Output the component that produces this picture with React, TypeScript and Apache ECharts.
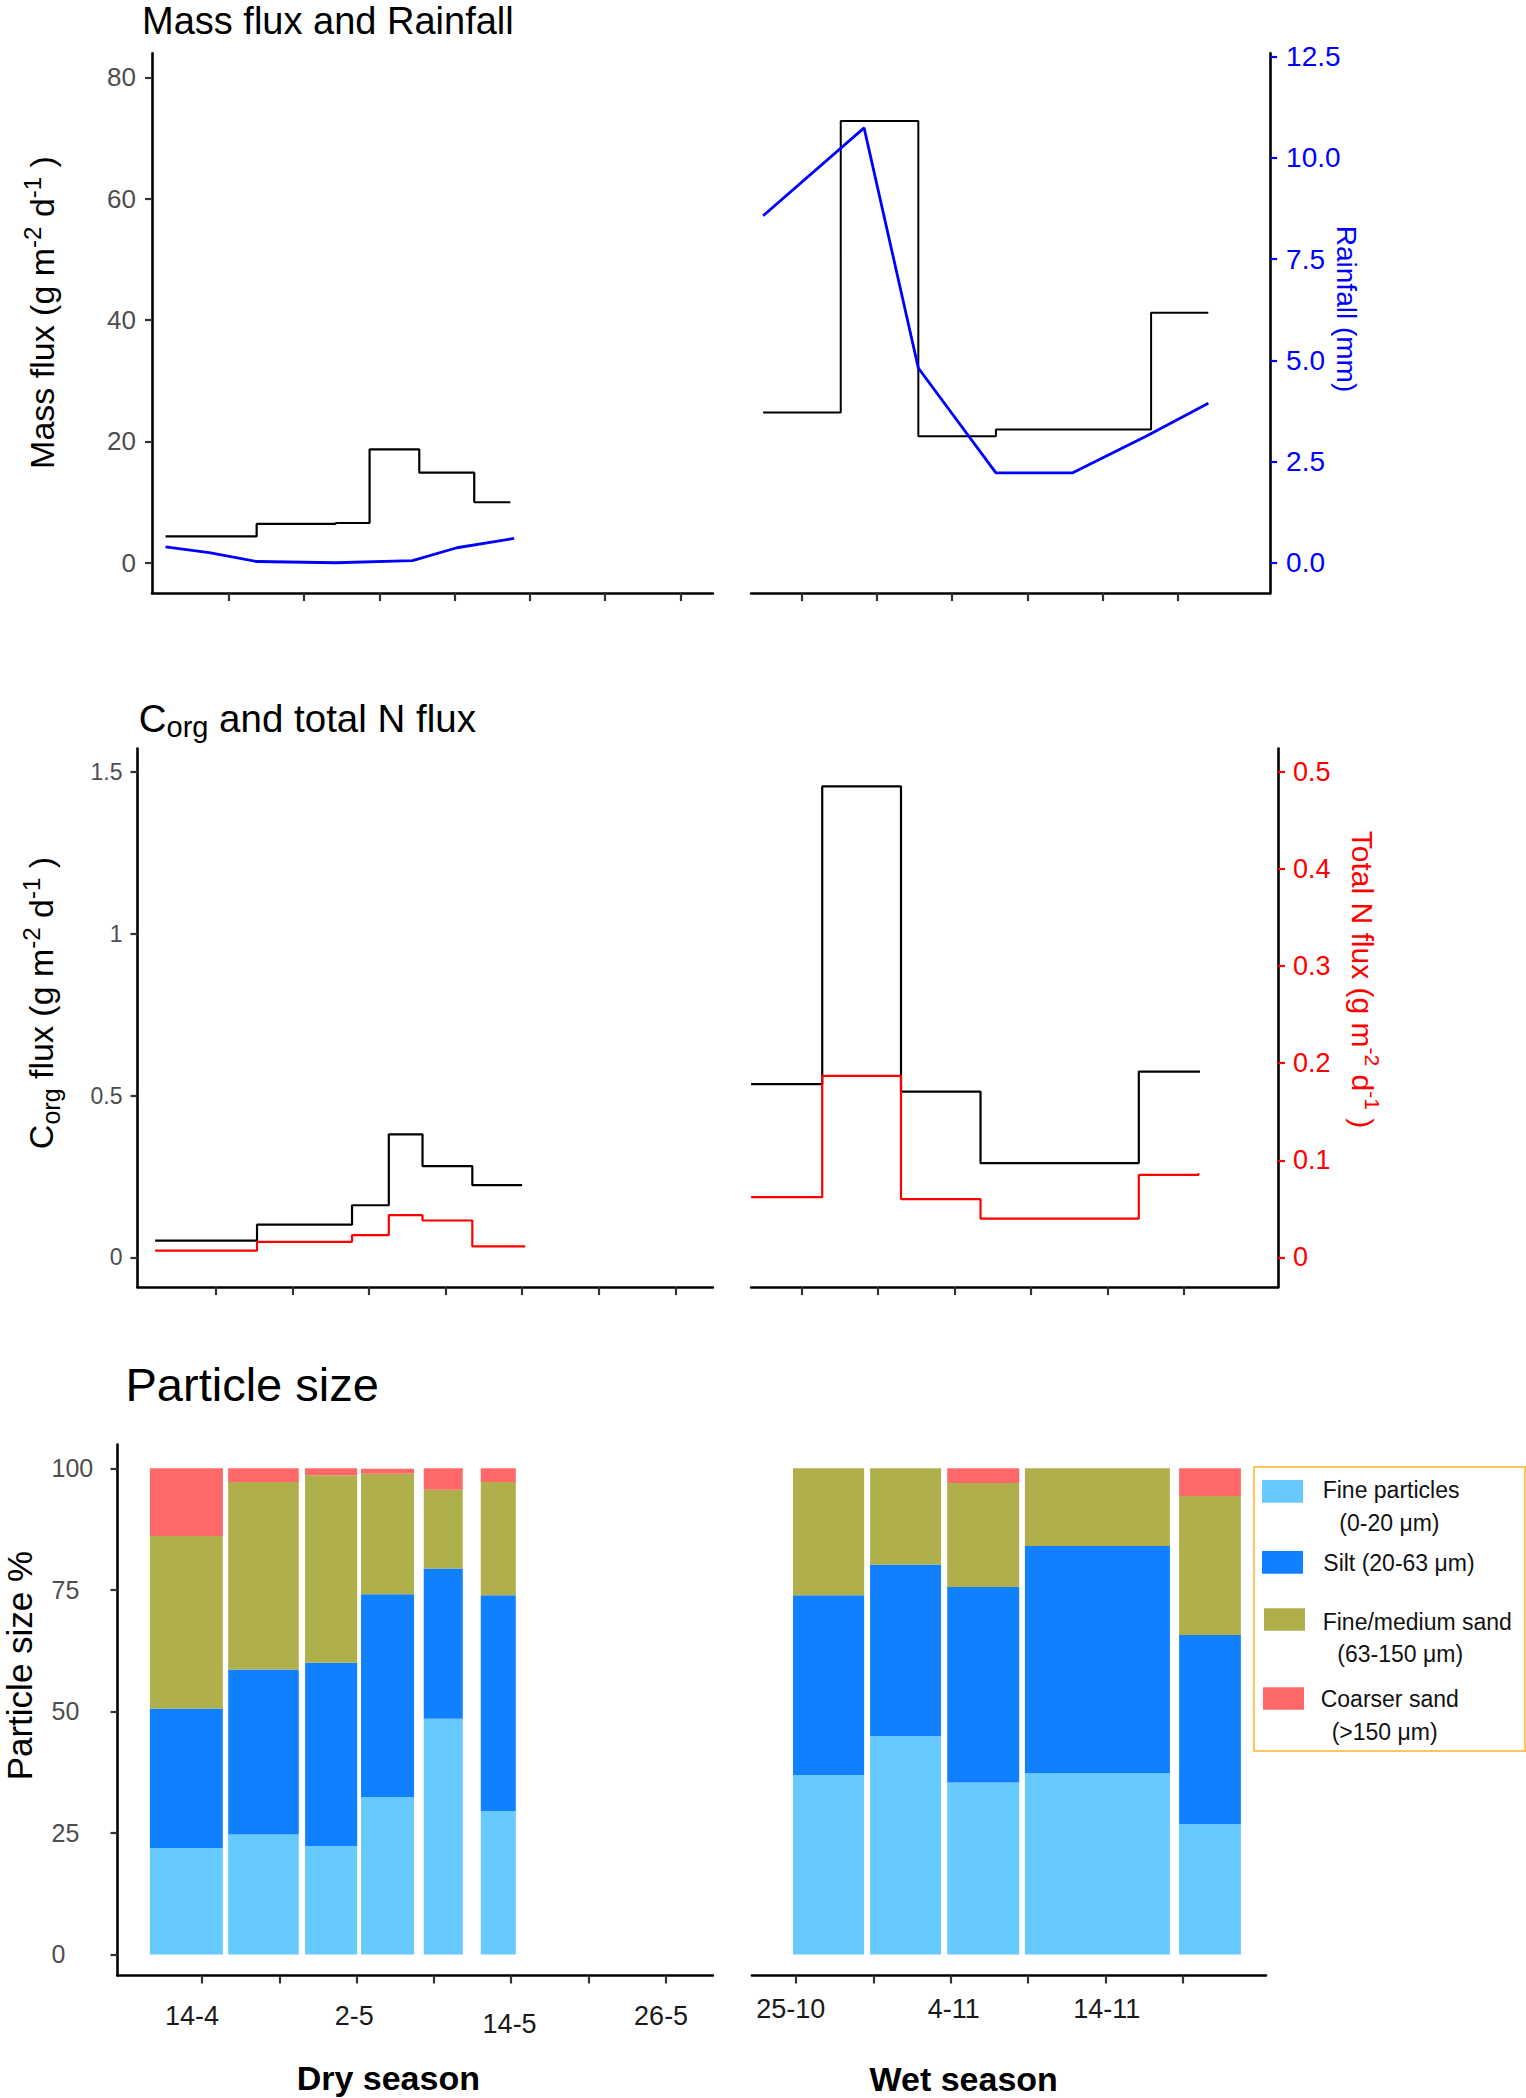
import React, { useEffect, useRef } from 'react';
import * as echarts from 'echarts';

// ---------------- Data ----------------
// Mass flux (g m-2 d-1), step series: x position (sampling axis units) and value
const massDryX = [0.16, 1.37, 2.42, 2.87, 3.53, 4.26, 4.74];
const massDry = [4.36, 6.4, 6.55, 18.7, 14.85, 9.97, 9.97];
const massWetX = [0.49, 1.52, 2.55, 3.58, 5.64, 6.4];
const massWet = [24.76, 72.8, 20.85, 21.95, 41.2, 41.2];
// Rainfall (mm)
const rainDryX = [0.16, 0.74, 1.37, 2.42, 3.44, 4.03, 4.79];
const rainDry = [0.39, 0.25, 0.03, 0.0, 0.05, 0.37, 0.6];
const rainWetX = [0.49, 1.83, 2.55, 3.58, 4.6, 5.58, 6.4];
const rainWet = [8.57, 10.74, 4.81, 2.22, 2.22, 3.13, 3.94];
// Corg flux (g m-2 d-1)
const corgDryX = [0.21, 1.54, 2.78, 3.26, 3.7, 4.35, 5.0];
const corgDry = [0.052, 0.101, 0.161, 0.38, 0.282, 0.223, 0.223];
const corgWetX = [0.34, 1.27, 2.3, 3.34, 5.41, 6.21];
const corgWet = [0.535, 1.455, 0.512, 0.291, 0.574, 0.574];
// Total N flux (g m-2 d-1)
const nDryX = [0.21, 1.54, 2.78, 3.26, 3.7, 4.35, 5.04];
const nDry = [0.007, 0.016, 0.023, 0.0435, 0.038, 0.0114, 0.0118];
const nWetX = [0.34, 1.27, 2.3, 3.34, 5.41, 6.19];
const nWet = [0.062, 0.187, 0.06, 0.04, 0.085, 0.0866];

// Particle size (%) – bars span [start, end] on the sampling axis
const dryBarStart = [0.326, 1.339, 2.334, 3.058, 3.869, 4.607];
const dryBarEnd = [1.27, 2.252, 3.008, 3.744, 4.374, 5.06];
const dryFine = [21.9, 24.7, 22.3, 32.4, 48.5, 29.5];
const drySilt = [28.7, 33.9, 37.7, 41.7, 30.9, 44.4];
const drySand = [35.5, 38.6, 38.6, 24.8, 16.2, 23.3];
const dryCoarse = [13.9, 2.8, 1.4, 1.0, 4.4, 2.8];
const wetBarStart = [0.96, 1.957, 2.955, 3.96, 5.955];
const wetBarEnd = [1.88, 2.875, 3.886, 5.836, 6.754];
const wetFine = [36.9, 44.9, 35.4, 37.3, 26.8];
const wetSilt = [37.0, 35.3, 40.2, 46.7, 38.9];
const wetSand = [26.1, 19.8, 21.4, 16.0, 28.6];
const wetCoarse = [0, 0, 3.0, 0, 5.7];

const sizeClasses = ['Fine particles', 'Silt (20-63 μm)', 'Fine/medium sand', 'Coarser sand'];
const sizeColors = ['#66CAFF', '#1080FF', '#AFAF4B', '#FF6868'];

// Tick labels
const dryDateLabels = ['14-4', '2-5', '14-5', '26-5'];
const dryDatePos = [0.87, 2.97, 4.98, 6.94];
const wetDateLabels = ['25-10', '4-11', '14-11'];
const wetDatePos = [0.93, 3.04, 5.02];
const dryTicks = [1, 2, 3, 4, 5, 6, 7];
const wetTicks = [1, 2, 3, 4, 5, 6];
const massTicks = [0, 20, 40, 60, 80];
const rainTicks = [0, 2.5, 5, 7.5, 10, 12.5];
const corgTicks = [0, 0.5, 1, 1.5];
const nTicks = [0, 0.1, 0.2, 0.3, 0.4, 0.5];
const pctTicks = [0, 25, 50, 75, 100];

// ---------------- Helpers ----------------
const FONT = '"Liberation Sans", Arial, Helvetica, sans-serif';

const zip = (xs: number[], ys: number[]) => xs.map((x, i) => [x, ys[i]]);
const nearest = (arr: number[], v: number) => {
  let best = 0;
  arr.forEach((a, i) => {
    if (Math.abs(a - v) < Math.abs(arr[best] - v)) best = i;
  });
  return best;
};

function xAxisDef(gridIndex: number, min: number, max: number, ticks: number[], label?: any) {
  return {
    type: 'value',
    gridIndex,
    min,
    max,
    axisLine: { show: true, onZero: false, lineStyle: { color: '#000', width: 2.6 } },
    axisTick: { show: true, customValues: ticks, length: 8, lineStyle: { color: '#333', width: 2.2 } },
    axisLabel: label || { show: false },
    splitLine: { show: false },
  };
}

function yAxisDef(
  gridIndex: number,
  min: number,
  max: number,
  opts: { show: boolean; position?: string; ticks?: number[]; color?: string; fontSize?: number; margin?: number; fmt?: (v: number) => string; align?: string; tickColor?: string }
) {
  if (!opts.show) {
    return { type: 'value', gridIndex, min, max, show: false, splitLine: { show: false } };
  }
  return {
    type: 'value',
    gridIndex,
    min,
    max,
    position: opts.position || 'left',
    axisLine: { show: true, onZero: false, lineStyle: { color: '#000', width: 2.6 } },
    axisTick: { show: true, customValues: opts.ticks, length: 7, lineStyle: { color: opts.tickColor || '#333', width: 2.2 } },
    axisLabel: {
      show: true,
      customValues: opts.ticks,
      formatter: opts.fmt || ((v: number) => String(v)),
      color: opts.color || '#4D4D4D',
      fontSize: opts.fontSize || 24,
      fontFamily: FONT,
      margin: opts.margin ?? 16,
      align: opts.align,
    },
    splitLine: { show: false },
  };
}

function stepSeries(x: number, y: number, data: number[][], color: string, width = 2.2) {
  return {
    type: 'line',
    xAxisIndex: x,
    yAxisIndex: y,
    data,
    step: 'end',
    symbol: 'none',
    silent: true,
    lineStyle: { color, width },
  };
}

function plainLine(x: number, y: number, data: number[][], color: string, width = 2.8) {
  return {
    type: 'line',
    xAxisIndex: x,
    yAxisIndex: y,
    data,
    symbol: 'none',
    silent: true,
    lineStyle: { color, width },
  };
}

function barSeries(
  name: string,
  color: string,
  starts: number[],
  ends: number[],
  bottoms: number[],
  tops: number[],
  xIdx: number,
  yIdx: number
) {
  return {
    type: 'custom',
    name,
    xAxisIndex: xIdx,
    yAxisIndex: yIdx,
    silent: true,
    renderItem: (_params: any, api: any) => {
      const p0 = api.coord([api.value(0), api.value(3)]);
      const p1 = api.coord([api.value(1), api.value(2)]);
      return {
        type: 'rect',
        shape: { x: p0[0], y: p0[1], width: p1[0] - p0[0], height: p1[1] - p0[1] },
        style: { fill: color },
      };
    },
    encode: { x: [0, 1], y: [2, 3] },
    data: starts.map((s, i) => [s, ends[i], bottoms[i], tops[i]]),
  };
}

function stackedBars(starts: number[], ends: number[], layers: number[][], xIdx: number, yIdx: number) {
  const out: any[] = [];
  const base = starts.map(() => 0);
  layers.forEach((vals, k) => {
    const bottoms = base.slice();
    const tops = vals.map((v, i) => base[i] + v);
    tops.forEach((t, i) => (base[i] = t));
    out.push(barSeries(sizeClasses[k], sizeColors[k], starts, ends, bottoms, tops, xIdx, yIdx));
  });
  return out;
}

function txt(x: number, y: number, text: string, size: number, extra: any = {}, rotation = 0) {
  return {
    type: 'text',
    x,
    y,
    rotation,
    silent: true,
    style: {
      text,
      fontSize: size,
      fontFamily: FONT,
      fill: extra.fill || '#000',
      align: extra.align || 'left',
      verticalAlign: 'middle',
      fontWeight: extra.fontWeight || 'normal',
      lineHeight: extra.lineHeight,
      rich: extra.rich,
    },
  };
}

function supRich(size: number, color: string) {
  return {
    sup: { fontSize: size, fontFamily: FONT, fill: color, lineHeight: 20, verticalAlign: 'top' },
  };
}

function buildOption() {
  const grids = [
    { left: 152, top: 53.4, width: 560.9, height: 539.7 },
    { left: 751.1, top: 53.4, width: 519, height: 539.7 },
    { left: 137.5, top: 748.5, width: 575.4, height: 538.6 },
    { left: 751.1, top: 748.5, width: 526.9, height: 538.6 },
    { left: 117.5, top: 1444.5, width: 595.4, height: 531 },
    { left: 751.9, top: 1444.5, width: 514.1, height: 531 },
  ].map((g) => ({ ...g, containLabel: false, outerBoundsMode: 'none' }));

  const lowRich = { low: { padding: [8, 0, 0, 0], fontSize: 27, fontFamily: FONT, color: '#1A1A1A' } };

  const xAxes = [
    xAxisDef(0, -0.02, 7.43, dryTicks),
    xAxisDef(1, 0.33, 7.22, wetTicks),
    xAxisDef(2, -0.02, 7.49, dryTicks),
    xAxisDef(3, 0.34, 7.23, wetTicks),
    xAxisDef(4, -0.093, 7.61, dryTicks, {
      show: true,
      customValues: dryDatePos,
      formatter: (v: number) => {
        const i = nearest(dryDatePos, v);
        return i === 2 ? '{low|' + dryDateLabels[i] + '}' : dryDateLabels[i];
      },
      rich: lowRich,
      color: '#1A1A1A',
      fontSize: 27,
      fontFamily: FONT,
      margin: 27,
    }),
    xAxisDef(5, 0.428, 7.079, wetTicks, {
      show: true,
      customValues: wetDatePos,
      formatter: (v: number) => wetDateLabels[nearest(wetDatePos, v)],
      color: '#1A1A1A',
      fontSize: 27,
      fontFamily: FONT,
      margin: 20,
    }),
  ];

  const yAxes = [
    yAxisDef(0, -5.0, 83.94, { show: true, ticks: massTicks, fontSize: 26, margin: 16 }),
    yAxisDef(0, -0.75, 12.58, { show: false }),
    yAxisDef(1, -5.0, 83.94, { show: false }),
    yAxisDef(1, -0.75, 12.58, {
      show: true,
      position: 'right',
      ticks: rainTicks,
      color: '#0000FF',
      tickColor: '#0000FF',
      fontSize: 28,
      margin: 16,
      fmt: (v: number) => v.toFixed(1),
    }),
    yAxisDef(2, -0.0918, 1.572, { show: true, ticks: corgTicks, fontSize: 23, margin: 15 }),
    yAxisDef(2, -0.0306, 0.524, { show: false }),
    yAxisDef(3, -0.0918, 1.572, { show: false }),
    yAxisDef(3, -0.0306, 0.524, {
      show: true,
      position: 'right',
      ticks: nTicks,
      color: '#FF0000',
      tickColor: '#FF0000',
      fontSize: 27,
      margin: 15,
    }),
    yAxisDef(4, -4.32, 104.9, { show: true, ticks: pctTicks, fontSize: 25, margin: 66, align: 'left' }),
    yAxisDef(5, -4.32, 104.9, { show: false }),
  ];

  const series: any[] = [
    stepSeries(0, 0, zip(massDryX, massDry), '#000'),
    plainLine(0, 1, zip(rainDryX, rainDry), '#0000FF'),
    stepSeries(1, 2, zip(massWetX, massWet), '#000', 2),
    plainLine(1, 3, zip(rainWetX, rainWet), '#0000FF'),
    stepSeries(2, 4, zip(corgDryX, corgDry), '#000'),
    stepSeries(2, 5, zip(nDryX, nDry), '#FF0000'),
    stepSeries(3, 6, zip(corgWetX, corgWet), '#000'),
    stepSeries(3, 7, zip(nWetX, nWet), '#FF0000'),
    ...stackedBars(dryBarStart, dryBarEnd, [dryFine, drySilt, drySand, dryCoarse], 4, 8),
    ...stackedBars(wetBarStart, wetBarEnd, [wetFine, wetSilt, wetSand, wetCoarse], 5, 9),
  ];

  const legendX = 1254;
  const legendY = 1467;
  const swatches = [
    [1262, 1480, 41, 22.7],
    [1262, 1551, 41, 22.7],
    [1264, 1608.3, 41, 22.4],
    [1263, 1687.3, 41, 22.4],
  ];
  const legendLines: [number, number, string][] = [
    [1322.7, 1489.5, 'Fine particles'],
    [1339.3, 1523.3, '(0-20 μm)'],
    [1323.3, 1563.3, 'Silt (20-63 μm)'],
    [1322.7, 1621.7, 'Fine/medium sand'],
    [1337.3, 1654.3, '(63-150 μm)'],
    [1320.7, 1699, 'Coarser sand'],
    [1331.7, 1731.7, '(>150 μm)'],
  ];

  const graphic: any[] = [
    // panel titles
    txt(142, 20.5, 'Mass flux and Rainfall', 38),
    txt(138.7, 718.5, 'C{sub|org} and total N flux', 38.5, {
      lineHeight: 46,
      rich: { sub: { fontSize: 29, fontFamily: FONT, fill: '#000', lineHeight: 16, verticalAlign: 'bottom' } },
    }),
    txt(125.5, 1384.5, 'Particle size', 47),
    // axis titles (left, reading upward)
    txt(42.3, 312.5, 'Mass flux (g m{sup|-2} d{sup|-1} )', 34, { align: 'center', lineHeight: 44, rich: supRich(24, '#000') }, Math.PI / 2),
    txt(41.4, 1003, 'C{sub|org} flux (g m{sup|-2} d{sup|-1} )', 34, {
      align: 'center',
      lineHeight: 44,
      rich: {
        ...supRich(24, '#000'),
        sub: { fontSize: 25, fontFamily: FONT, fill: '#000', lineHeight: 16, verticalAlign: 'bottom' },
      },
    }, Math.PI / 2),
    txt(19, 1665.6, 'Particle size %', 35, { align: 'center' }, Math.PI / 2),
    // axis titles (right, reading downward)
    txt(1346, 309, 'Rainfall (mm)', 28, { align: 'center', fill: '#0000FF' }, -Math.PI / 2),
    txt(1362.5, 979.5, 'Total N flux (g m{sup|-2} d{sup|-1} )', 30, {
      align: 'center',
      fill: '#FF0000',
      lineHeight: 40,
      rich: supRich(21, '#FF0000'),
    }, -Math.PI / 2),
    // season labels
    txt(388.3, 2078, 'Dry season', 34, { align: 'center', fontWeight: 'bold' }),
    txt(963.7, 2079, 'Wet season', 34, { align: 'center', fontWeight: 'bold' }),
    // legend
    {
      type: 'rect',
      silent: true,
      shape: { x: legendX, y: legendY, width: 271, height: 284 },
      style: { fill: '#fff', stroke: '#FFC55C', lineWidth: 2 },
    },
    ...swatches.map((s, i) => ({
      type: 'rect',
      silent: true,
      shape: { x: s[0], y: s[1], width: s[2], height: s[3] },
      style: { fill: sizeColors[i] },
    })),
    ...legendLines.map(([x, y, t]) => txt(x, y, t, 23, { fill: '#111' })),
  ];

  return {
    animation: false,
    backgroundColor: '#fff',
    textStyle: { fontFamily: FONT },
    grid: grids,
    xAxis: xAxes,
    yAxis: yAxes,
    series,
    graphic,
  };
}

export default function App() {
  const ref = useRef<HTMLDivElement>(null);
  useEffect(() => {
    if (!ref.current) return;
    const chart = echarts.init(ref.current, null, { renderer: 'svg' });
    chart.setOption(buildOption() as any);
    return () => chart.dispose();
  }, []);
  return (
    <div
      ref={ref}
      style={{ position: 'absolute', left: 0, top: 0, width: 1526, height: 2098, background: '#fff' }}
    />
  );
}
